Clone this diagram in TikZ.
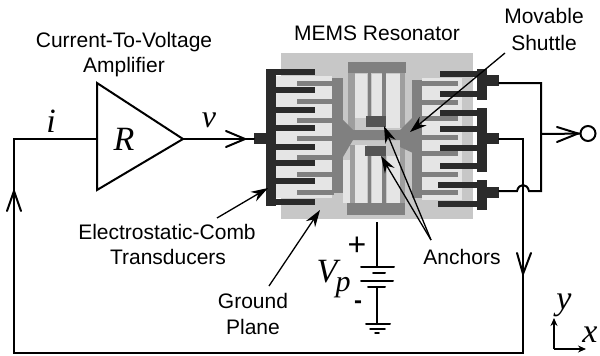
\documentclass[tikz,border=0pt]{standalone}
\usepackage{fontspec}
\setmainfont{Liberation Sans}
\newfontfamily\serifit{Liberation Serif}
\usetikzlibrary{arrows.meta}
\definecolor{bggray}{gray}{0.78}
\definecolor{litegray}{gray}{0.90}
\definecolor{hatchgray}{gray}{0.50}
\definecolor{beamgray}{gray}{0.62}
\definecolor{darkgray}{gray}{0.17}
\definecolor{anchorgray}{gray}{0.33}
\tikzset{
  wire/.style={line width=2pt,line cap=round,line join=miter},
  thinwire/.style={line width=1.3pt},
  lbl/.style={font=\fontsize{21}{23}\selectfont,inner sep=0pt,text=black},
  mathlbl/.style={inner sep=0pt,text=black,font=\serifit\itshape\fontsize{34}{36}\selectfont},
  pointer/.style={line width=1.3pt,-{Stealth[length=17pt,width=11pt]}},
  metal/.style={fill=darkgray,draw=none},
  moving/.style={fill=hatchgray,draw=none},
  lite/.style={fill=litegray,draw=none},
  beam/.style={fill=beamgray,draw=none},
  anchorbox/.style={fill=anchorgray,draw=none},
}
\begin{document}
\begin{tikzpicture}[x=1pt,y=-1pt]
\useasboundingbox (0,0) rectangle (600,356);
% ground plane
\fill[bggray] (281,53) rectangle (473,219);
% light openings, left
\fill[lite] (276,76) rectangle (332,198);
% light openings, right
\fill[lite] (422,78) rectangle (462,200);
% folded beams: light columns
\fill[lite] (355,74) rectangle (367,118);
\fill[lite] (372,74) rectangle (382,116);
\fill[lite] (385,74) rectangle (400,128);
\fill[lite] (343,160) rectangle (350,203);
\fill[lite] (355,145) rectangle (367,203);
\fill[lite] (372,156) rectangle (382,203);
\fill[lite] (387,156) rectangle (400,203);
% dark beams
\fill[beam] (348,73) rectangle (355,130);
\foreach \bx in {367.5,382}{\fill[hatchgray] (\bx,73) rectangle (\bx+3.5,118);
  \fill[hatchgray] (\bx,156) rectangle (\bx+3.5,203);}
\fill[beam] (400,73) rectangle (405,128);
\fill[beam] (350,145) rectangle (355,203);
\fill[beam] (400,145) rectangle (405,203);
% moving shuttle, left comb
\fill[moving] (332,78) rectangle (343,193);
\foreach \ty in {83,101,120,138,157,174,192}{\fill[moving] (297,\ty-2.5) rectangle (334,\ty+2.5);}
% moving shuttle, right comb
\fill[moving] (412,80) rectangle (422,198);
\foreach \ty in {83,102,118,137,153,174,192}{\fill[moving] (420,\ty-2.5) rectangle (458,\ty+2.5);}
% shuttle body
\fill[moving] (343,120) -- (353,130) -- (400,130) -- (413,117) -- (413,153) -- (400,147) -- (400,140) -- (353,140) -- (343,157) -- cycle;
% trusses
\fill[moving] (348,62) rectangle (406,73);
\fill[moving] (347,203) rectangle (405,215);
% anchors
\fill[anchorbox] (366,116) rectangle (386,127);
\fill[anchorbox] (365,146) rectangle (386,156);
% left fixed comb
\fill[metal] (266,69) rectangle (276,206);
\foreach \ty in {72,90,110,128,147,163,181,202}{\fill[metal] (275,\ty-2.7) rectangle (315,\ty+2.7);}
\fill[metal] (254,133) rectangle (266,144);
% right fixed combs
\fill[metal] (477,69) rectangle (487,100);
\foreach \ty in {74,94}{\fill[metal] (440,\ty-2.7) rectangle (478,\ty+2.7);}
\fill[metal] (487,75) rectangle (499,86);
\fill[metal] (477,108) rectangle (487,172);
\foreach \ty in {113,129,148,166}{\fill[metal] (440,\ty-2.7) rectangle (478,\ty+2.7);}
\fill[metal] (487,133) rectangle (499,144);
\fill[metal] (477,180) rectangle (487,210);
\foreach \ty in {185,204}{\fill[metal] (438,\ty-2.7) rectangle (478,\ty+2.7);}
\fill[metal] (487,187) rectangle (499,198);

% connection points
\coordinate (combIn) at (254,139);
\coordinate (outTop) at (499,83);
\coordinate (outMid) at (499,139);
\coordinate (outBot) at (499,191);
\coordinate (joinTop) at (541,83);
\coordinate (joinOut) at (541,134);
\coordinate (joinBot) at (541,191);
\coordinate (loopBR) at (523,353);
\coordinate (loopBL) at (14,353);
\coordinate (loopTL) at (14,139);
\coordinate (loopTR) at (523,139);

% amplifier
\coordinate (ampA) at (97,83);
\coordinate (ampB) at (97,190);
\coordinate (ampC) at (183,139);
\coordinate (ampIn) at (97,139);
\draw[wire,line join=miter] (ampA) -- (ampB) -- (ampC) -- cycle;
\node[mathlbl] (R) at (124,139) {R};
\node[mathlbl] (iL) at (51,121) {i};
\node[mathlbl,font=\serifit\itshape\fontsize{32}{34}\selectfont] (vL) at (209,120) {v};

% wires
\draw[wire] (ampC) -- (combIn);
\coordinate (vA) at (226,131); \coordinate (vTip) at (245,139); \coordinate (vB) at (226,147);
\draw[wire] (vA) -- (vTip) -- (vB);
\draw[wire] (outTop) -- (joinTop) -- (joinBot) -- (529,191) .. controls (527,183) and (519,183) .. (517,191) -- (outBot);
\draw[wire] (outMid) -- (loopTR) -- (loopBR) -- (loopBL) -- (loopTL) -- (ampIn);
\node[circle,draw,line width=2pt,minimum size=15pt,inner sep=0pt] (term) at (588,133.5) {};
\draw[wire] (joinOut) -- (term);
\coordinate (oA) at (557,127); \coordinate (oTip) at (578,133.5); \coordinate (oB) at (557,142);
\draw[wire] (oA) -- (oTip) -- (oB);
\coordinate (dA) at (517,253); \coordinate (dTip) at (523,274); \coordinate (dB) at (531,253);
\draw[wire] (dA) -- (dTip) -- (dB);
\coordinate (uA) at (7,211); \coordinate (uTip) at (14,191); \coordinate (uB) at (21,211);
\draw[wire] (uA) -- (uTip) -- (uB);

% labels
\node[lbl] (cv1) at (124,42) {Current-To-Voltage};
\node[lbl] (cv2) at (124,67) {Amplifier};
\node[lbl] (mems) at (377,33) {MEMS Resonator};
\node[lbl] (mov) at (544,16) {Movable};
\node[lbl] (shu) at (544,43) {Shuttle};
\node[lbl] (ec1) at (167,232) {Electrostatic-Comb};
\node[lbl] (ec2) at (168,257) {Transducers};
\node[lbl] (gp1) at (253,301) {Ground};
\node[lbl] (gp2) at (253,327) {Plane};
\node[lbl] (anc) at (462,257) {Anchors};

% pointers
\coordinate (pComb) at (268,188);
\coordinate (pCombS) at (217,218);
\coordinate (pGnd) at (320,210);
\coordinate (pGndS) at (269,286);
\coordinate (pShu) at (410,132);
\coordinate (pShuS) at (505,53);
\coordinate (pAncS) at (431,240);
\coordinate (pAnc1) at (384,126);
\coordinate (pAnc2) at (381,156);
\draw[pointer] (pCombS) -- (pComb);
\draw[pointer] (pGndS) -- (pGnd);
\draw[pointer] (pShuS) -- (pShu);
\draw[pointer] (pAncS) -- (pAnc1);
\draw[pointer] (pAncS) -- (pAnc2);

% battery
\coordinate (batTop) at (377,222);
\coordinate (bat1) at (377,267);
\coordinate (bat2) at (377,287);
\coordinate (gnd1) at (377,324);
\draw[thinwire] (batTop) -- (bat1);
\draw[wire] (361,267) -- (394,267);
\draw[wire] (373,272.5) -- (385,272.5);
\draw[wire] (361,281) -- (393,281);
\draw[wire] (368,287) -- (385,287);
\draw[wire] (bat2) -- (gnd1);
\draw[wire] (366,324) -- (390,324);
\draw[wire,line width=1.5pt] (370,329) -- (385,329);
\draw[wire,line width=1.5pt] (375,333) -- (379,333);
\node[mathlbl] (V) at (327,272) {V};
\node[mathlbl,font=\serifit\itshape\fontsize{30}{32}\selectfont] (p) at (343,288) {p};
\node[inner sep=0pt,font=\fontsize{32}{34}\selectfont] (plus) at (357,246) {+};
\node[inner sep=0pt,font=\bfseries\fontsize{24}{26}\selectfont] (minus) at (358,305) {-};

% axes
\coordinate (axO) at (554,349);
\coordinate (axY) at (554,318);
\coordinate (axX) at (586,349);
\draw[line width=1.2pt,-{Stealth[length=8pt,width=7pt]}] (axO) -- (axY);
\draw[line width=1.2pt,-{Stealth[length=8pt,width=7pt]}] (axO) -- (axX);
\node[mathlbl] (yL) at (564,305) {y};
\node[mathlbl] (xL) at (590,335) {x};
\end{tikzpicture}
\end{document}
